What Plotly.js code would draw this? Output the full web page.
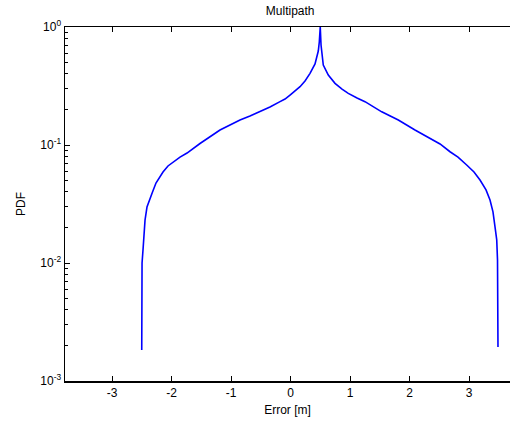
<!DOCTYPE html>
<html>
<head>
<meta charset="utf-8">
<script src="https://cdn.plot.ly/plotly-3.0.1.min.js"></script>
<style>html,body{margin:0;padding:0;overflow:hidden;background:#fff;}</style>
</head>
<body>
<div id="chart" style="width:510px;height:428px;"></div>
<script>
// Error [m] values and PDF values
const errorX = [-2.5, -2.495, -2.479, -2.462, -2.445, -2.412, -2.361, -2.319, -2.261, -2.143,
  -2.059, -1.975, -1.857, -1.739, -1.521, -1.185, -1.017, -0.849, -0.681, -0.513, -0.345,
  -0.176, -0.092, -0.008, 0.160, 0.244, 0.328, 0.412, 0.467, 0.484, 0.5,
  0.513, 0.551, 0.635, 0.748, 0.866, 0.971, 1.118, 1.252, 1.533, 1.812, 2.092, 2.373,
  2.513, 2.681, 2.815, 2.961, 3.084, 3.185, 3.286, 3.353, 3.403, 3.437, 3.466, 3.479, 3.487];
const pdfY = [0.00183, 0.0100, 0.0129, 0.0183, 0.0231, 0.0298, 0.0356, 0.0400, 0.0476, 0.0590,
  0.0664, 0.0718, 0.0790, 0.0855, 0.103, 0.134, 0.148, 0.163, 0.176, 0.191, 0.210,
  0.233, 0.245, 0.265, 0.312, 0.349, 0.405, 0.486, 0.626, 0.746, 1.0,
  0.704, 0.476, 0.392, 0.333, 0.298, 0.274, 0.250, 0.233, 0.191, 0.163, 0.134, 0.112,
  0.102, 0.0877, 0.0790, 0.0677, 0.0590, 0.0505, 0.0416, 0.0342, 0.0271, 0.0202, 0.0157, 0.0106, 0.00194];
const xTickVals = [-3, -2, -1, 0, 1, 2, 3];
const xTickText = ["-3", "-2", "-1", "0", "1", "2", "3"];
const yTickVals = [0.001, 0.01, 0.1, 1];
const yTickText = ["10<sup>-3</sup>", "10<sup>-2</sup>", "10<sup>-1</sup>", "10<sup>0</sup>"];
const yMinorVals = [0.002,0.003,0.004,0.005,0.006,0.007,0.008,0.009,0.02,0.03,0.04,0.05,0.06,0.07,0.08,0.09,0.2,0.3,0.4,0.5,0.6,0.7,0.8,0.9];

const font = {family: "Liberation Sans, Arial, sans-serif", size: 12, color: "#000"};

Plotly.newPlot("chart", [{
  x: errorX, y: pdfY, type: "scatter", mode: "lines",
  line: {color: "#0000ff", width: 1.6}, hoverinfo: "skip"
}], {
  width: 510, height: 428,
  margin: {l: 65, r: 0, t: 27, b: 47},
  paper_bgcolor: "#fff", plot_bgcolor: "#fff",
  font: font,
  showlegend: false,
  title: {text: "Multipath", font: font, x: 0.506, xref: "paper", y: 0.975, yref: "container", xanchor: "center", yanchor: "middle"},
  xaxis: {
    range: [-3.79, 3.689], tickvals: xTickVals, ticktext: xTickText,
    ticks: "inside", ticklen: 5, tickwidth: 1, tickcolor: "#000",
    showline: true, linecolor: "#000", linewidth: 1.5, mirror: "ticks",
    showgrid: false, zeroline: false, tickfont: font,
    title: {text: "Error [m]", font: font, standoff: 6}
  },
  yaxis: {
    type: "log", range: [-3, 0], tickvals: yTickVals, ticktext: yTickText,
    ticks: "inside", ticklen: 5, tickwidth: 1, tickcolor: "#000",
    minor: {ticks: "inside", ticklen: 3, tickcolor: "#000", tickvals: yMinorVals, showgrid: false},
    showline: true, linecolor: "#000", linewidth: 1.5,
    showgrid: false, zeroline: false, tickfont: font,
    title: {text: "PDF", font: font, standoff: 12}
  }
}, {displayModeBar: false, staticPlot: true});
</script>
</body>
</html>
